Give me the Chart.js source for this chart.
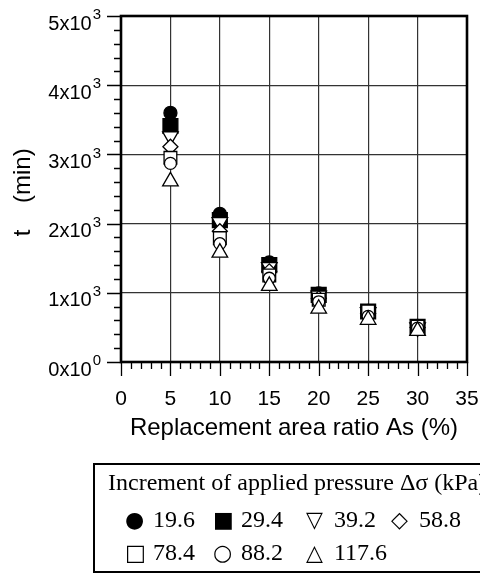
<!DOCTYPE html>
<html><head><meta charset="utf-8">
<script src="https://cdn.jsdelivr.net/npm/chart.js@4/dist/chart.umd.min.js"></script>
<style>
html,body{margin:0;padding:0;background:#fff;}
#wrap{position:relative;width:480px;height:574px;overflow:hidden;background:#fff;}
#c{position:absolute;left:0;top:0;}
#legend{position:absolute;left:93px;top:463px;width:430px;height:110px;border:2.5px solid #000;box-sizing:border-box;font-family:"Liberation Serif","Times New Roman",serif;font-size:24px;color:#000;}
#legend .t{position:absolute;left:13px;top:4px;white-space:nowrap;}
#legend .it{position:absolute;white-space:nowrap;line-height:28px;}
#legend .sym{font-family:"DejaVu Sans",sans-serif;font-size:22px;display:inline-block;width:28px;}
</style></head>
<body><div id="wrap"><canvas id="c" width="480" height="574"></canvas><div id="legend"></div></div>
<script>
// ---- data ----
const asRatio = [5, 10, 15, 20, 25, 30];
const p19_6  = [3600, 2140, 1440, 990, 740, 520];
const p29_4  = [3410, 2050, 1400, 970, 730, 510];
const p39_2  = [3260, 2020, 1370, 960, 720, 500];
const p58_8  = [3110, 1890, 1310, 920, 700, 500];
const p78_4  = [2950, 1790, 1250, 900, 730, 510];
const p88_2  = [2870, 1710, 1210, 870, 660, 490];
const p117_6 = [2610, 1580, 1100, 770, 610, 450];
const pressureLabels = ['19.6', '29.4', '39.2', '58.8', '78.4', '88.2', '117.6'];
const legendSymbols = ['\u25CF', '\u25A0', '\u25BD', '\u25C7', '\u25A1', '\u25CB', '\u25B3'];
const yTickValues = [0, 1000, 2000, 3000, 4000, 5000];
const yTickMantissa = ['0x10', '1x10', '2x10', '3x10', '4x10', '5x10'];
const yTickExp = ['0', '3', '3', '3', '3', '3'];
const xTitle = 'Replacement area ratio As (%)';
const yTitle = 't    (min) ';
const legendTitle = 'Increment of applied pressure \u0394\u03C3 (kPa)';

const series = [p19_6, p29_4, p39_2, p58_8, p78_4, p88_2, p117_6];
const styles = ['circle', 'rect', 'triangle', 'rectRot', 'rect', 'circle', 'triangle'];
const rots   = [0, 0, 180, 0, 0, 0, 0];
const radii  = [6.5, 10.5, 9, 7.5, 9, 6, 9];
const fills  = ['#000', '#000', '#fff', '#fff', '#fff', '#fff', '#fff'];

const datasets = series.map((vals, i) => ({
  label: pressureLabels[i],
  data: asRatio.map((x, j) => ({x: x, y: vals[j]})),
  pointStyle: styles[i], rotation: rots[i], pointRadius: radii[i], pointHoverRadius: radii[i],
  pointBackgroundColor: fills[i], pointBorderColor: '#000', pointBorderWidth: 1.3,
  showLine: false, order: series.length - i
}));

const SANS = '"Liberation Sans", Arial, Helvetica, sans-serif';

const framePlugin = {
  id: 'frame',
  afterDraw(chart) {
    const ctx = chart.ctx, a = chart.chartArea;
    const xs = chart.scales.x, ys = chart.scales.y;
    ctx.save();
    ctx.strokeStyle = '#000';
    ctx.lineWidth = 1.3;
    ctx.beginPath();
    xs.ticks.forEach(t => {
      const px = Math.round(xs.getPixelForValue(t.value)) + 0.5;
      const len = (t.value % 5 === 0) ? 14 : 7;
      ctx.moveTo(px, a.bottom); ctx.lineTo(px, a.bottom + len);
    });
    ys.ticks.forEach(t => {
      const py = Math.round(ys.getPixelForValue(t.value)) + 0.5;
      const len = (t.value % 1000 === 0) ? 14 : 7;
      ctx.moveTo(a.left, py); ctx.lineTo(a.left - len, py);
    });
    ctx.stroke();
    ctx.lineWidth = 2.6;
    ctx.strokeRect(a.left, a.top, a.right - a.left, a.bottom - a.top);
    // y tick labels with superscripts
    ctx.fillStyle = '#000';
    ctx.textBaseline = 'middle';
    yTickValues.forEach((v, i) => {
      const py = ys.getPixelForValue(v);
      ctx.font = '15px ' + SANS;
      const sw = ctx.measureText(yTickExp[i]).width;
      const sx = 101 - sw;
      ctx.textAlign = 'left';
      ctx.fillText(yTickExp[i], sx, py - 1);
      ctx.font = '20px ' + SANS;
      ctx.textAlign = 'right';
      ctx.fillText(yTickMantissa[i], sx - 1, py + 8);
    });
    ctx.restore();
  }
};

new Chart(document.getElementById('c'), {
  type: 'scatter',
  data: { datasets: datasets },
  options: {
    responsive: false, animation: false,
    layout: { padding: { top: 16, right: 13, left: 0, bottom: 119 } },
    plugins: { legend: { display: false }, tooltip: { enabled: false } },
    scales: {
      x: {
        type: 'linear', min: 0, max: 35,
        ticks: { stepSize: 1, autoSkip: false, maxRotation: 0, padding: 11, color: '#000',
          font: { family: SANS, size: 21 },
          callback: v => (v % 5 === 0 ? String(v) : '') },
        grid: { color: c => (c.tick && c.tick.value % 5 === 0) ? '#333' : 'rgba(0,0,0,0)',
          lineWidth: 1.2, tickLength: 14, tickColor: 'rgba(0,0,0,0)' },
        border: { display: false },
        title: { display: true, text: xTitle, color: '#000', font: { family: SANS, size: 24 },
          padding: { top: 0, bottom: 12 } },
        afterFit: s => { s.height = 93; s.paddingLeft = 0; s.paddingRight = 0; }
      },
      y: {
        type: 'linear', min: 0, max: 5000,
        ticks: { stepSize: 200, display: false },
        grid: { color: c => (c.tick && c.tick.value % 1000 === 0) ? '#333' : 'rgba(0,0,0,0)',
          lineWidth: 1.2, tickLength: 14, tickColor: 'rgba(0,0,0,0)' },
        border: { display: false },
        title: { display: true, text: yTitle, color: '#000', font: { family: SANS, size: 24 },
          padding: { top: 9, bottom: 0 } },
        afterFit: s => { s.width = 121; s.paddingTop = 0; s.paddingBottom = 0; }
      }
    }
  },
  plugins: [framePlugin]
});

// ---- legend (HTML) ----
const lg = document.getElementById('legend');
const tdiv = document.createElement('div');
tdiv.className = 't'; tdiv.textContent = legendTitle; lg.appendChild(tdiv);
const colX = [30, 118, 211, 296];
const rowY = [40, 73];
pressureLabels.forEach((lab, i) => {
  const r = i < 4 ? 0 : 1, c = i < 4 ? i : i - 4;
  const d = document.createElement('div');
  d.className = 'it';
  d.style.left = colX[c] + 'px'; d.style.top = rowY[r] + 'px';
  const s = document.createElement('span'); s.className = 'sym'; s.textContent = legendSymbols[i];
  d.appendChild(s); d.appendChild(document.createTextNode(lab));
  lg.appendChild(d);
});
</script></body></html>
